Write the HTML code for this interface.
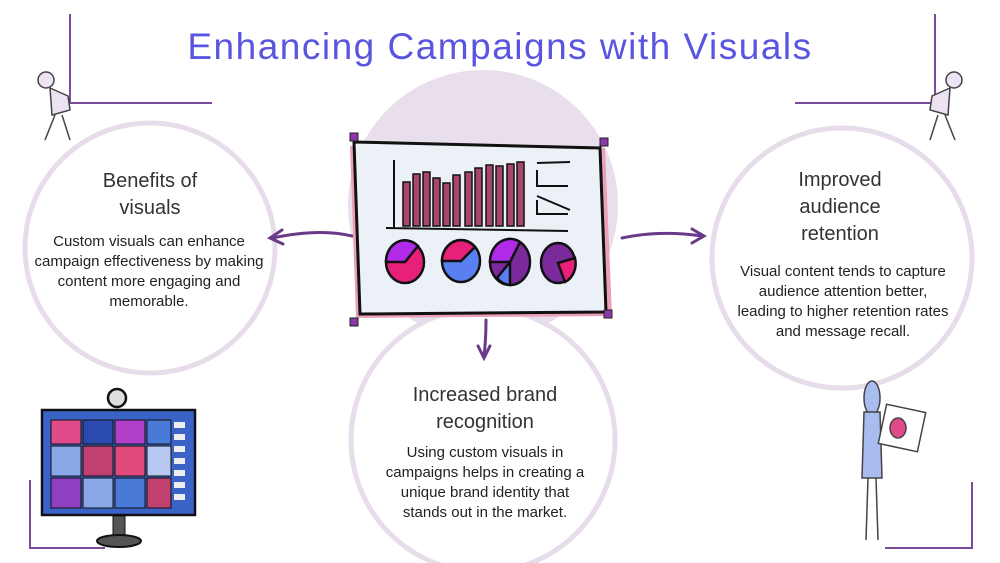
<!DOCTYPE html>
<html><head><style>
body{margin:0;width:1000px;height:563px;background:#fff;overflow:hidden;position:relative;font-family:"Liberation Sans",sans-serif}
.t{position:absolute;text-align:center;color:#222}
.h{font-size:20px;line-height:27px;color:#333}
.p{font-size:15px;line-height:20px;color:#222}
</style></head><body>
<svg width="1000" height="563" style="position:absolute;left:0;top:0">
<circle cx="483" cy="205" r="135" fill="#e9dfec"/>
<circle cx="150" cy="248" r="125" fill="#fff" stroke="#e6dcea" stroke-width="5"/>
<circle cx="842" cy="258" r="130" fill="#fff" stroke="#e6dcea" stroke-width="5"/>
<circle cx="483" cy="440" r="132" fill="#fff" stroke="#e6dcea" stroke-width="5"/>
<path d="M70 14 V103 H212" stroke="#7b4a9a" stroke-width="2" fill="none"/>
<path d="M935 14 V103 H795" stroke="#7b4a9a" stroke-width="2" fill="none"/>
<path d="M30 480 V548 H105" stroke="#7b4a9a" stroke-width="2" fill="none"/>
<path d="M972 482 V548 H885" stroke="#7b4a9a" stroke-width="2" fill="none"/>
<g stroke="#444" stroke-width="1.5" fill="#ede3f3">
<circle cx="46" cy="80" r="8"/><path d="M50 88 L68 96 L70 110 L52 115 Z"/><path d="M55 115 L45 140 M62 115 L70 140"/>
<circle cx="954" cy="80" r="8"/><path d="M950 88 L932 96 L930 110 L948 115 Z"/><path d="M945 115 L955 140 M938 115 L930 140"/>
<ellipse cx="872" cy="398" rx="8" ry="17" fill="#a9bcf0"/><path d="M864 412 L880 412 L882 478 L862 478 Z" fill="#a9bcf0"/><path d="M868 478 L866 540 M876 478 L878 540"/>
<rect x="882" y="408" width="40" height="40" fill="#fff" transform="rotate(12 902 428)"/>
<ellipse cx="898" cy="428" rx="8" ry="10" fill="#e04a8a"/>
</g>
<g stroke="#6a3a8a" stroke-width="3" fill="none" stroke-linecap="round">
<path d="M352 236 Q320 228 272 238"/><path d="M282 230 L270 238 L283 244"/>
<path d="M622 238 Q660 230 702 236"/><path d="M692 229 L704 236 L692 243"/>
<path d="M486 320 Q486 340 484 356"/><path d="M478 346 L484 358 L490 346"/>
</g>
<path d="M350 146 L605 148 L612 316 L356 318 Z" fill="#e9a0b8"/>
<path d="M354 142 L600 148 L606 312 L360 314 Z" fill="#ecf1f8" stroke="#111" stroke-width="3"/>
<g fill="#a8466e" stroke="#111" stroke-width="1.5">
<rect x="403" y="182" width="7" height="44"/><rect x="413" y="174" width="7" height="52"/><rect x="423" y="172" width="7" height="54"/><rect x="433" y="178" width="7" height="48"/><rect x="443" y="183" width="7" height="43"/><rect x="453" y="175" width="7" height="51"/><rect x="465" y="172" width="7" height="54"/><rect x="475" y="168" width="7" height="58"/><rect x="486" y="165" width="7" height="61"/><rect x="496" y="166" width="7" height="60"/><rect x="507" y="164" width="7" height="62"/><rect x="517" y="162" width="7" height="64"/>
</g>
<path d="M394 160 V228 M386 228 L568 231 M537 170 V186 H568 M537 163 L570 162 M537 200 V214 H568 M537 196 L570 210" stroke="#111" stroke-width="2" fill="none"/>
<g stroke="#111" stroke-width="2.5">
<ellipse cx="405" cy="262" rx="19" ry="21" fill="#e8207a"/><path d="M386 262 A19 21 0 0 1 418 246 L405 262 Z" fill="#b02ae8"/>
<ellipse cx="461" cy="261" rx="19" ry="21" fill="#5a7ff0"/><path d="M442 261 A19 21 0 0 1 475 247 L461 261 Z" fill="#e8207a"/>
<ellipse cx="510" cy="262" rx="20" ry="23" fill="#7a2a9a"/><path d="M490 262 A20 23 0 0 1 520 242 L510 262 Z" fill="#b02ae8"/><path d="M510 262 L497 278 A20 23 0 0 0 510 285 Z" fill="#5a7ff0"/>
<ellipse cx="558" cy="263" rx="17" ry="20" fill="#7a2a9a"/><path d="M558 263 L575 258 A17 20 0 0 1 565 282 Z" fill="#e8207a"/>
</g>
<g fill="#8a3aa8" stroke="#222"><rect x="350" y="133" width="8" height="8"/><rect x="600" y="138" width="8" height="8"/><rect x="350" y="318" width="8" height="8"/><rect x="604" y="310" width="8" height="8"/></g>
<rect x="42" y="410" width="153" height="105" fill="#3a63c8" stroke="#111" stroke-width="2.5"/>
<circle cx="117" cy="398" r="9" fill="#ddd" stroke="#111" stroke-width="2.5"/>
<g stroke="#111" stroke-width="1">
<rect x="51" y="420" width="30" height="24" fill="#e04a8a"/><rect x="83" y="420" width="30" height="24" fill="#2a4ab0"/><rect x="115" y="420" width="30" height="24" fill="#b040c8"/><rect x="147" y="420" width="24" height="24" fill="#4a7ad8"/>
<rect x="51" y="446" width="30" height="30" fill="#8aa8e8"/><rect x="83" y="446" width="30" height="30" fill="#c04070"/><rect x="115" y="446" width="30" height="30" fill="#e04a7a"/><rect x="147" y="446" width="24" height="30" fill="#b8c8f0"/>
<rect x="51" y="478" width="30" height="30" fill="#9040c0"/><rect x="83" y="478" width="30" height="30" fill="#8aa8e8"/><rect x="115" y="478" width="30" height="30" fill="#4a7ad8"/><rect x="147" y="478" width="24" height="30" fill="#c04070"/>
</g>
<g fill="#eee"><rect x="174" y="422" width="11" height="6"/><rect x="174" y="434" width="11" height="6"/><rect x="174" y="446" width="11" height="6"/><rect x="174" y="458" width="11" height="6"/><rect x="174" y="470" width="11" height="6"/><rect x="174" y="482" width="11" height="6"/><rect x="174" y="494" width="11" height="6"/></g>
<rect x="113" y="516" width="12" height="22" fill="#555" stroke="#111"/>
<ellipse cx="119" cy="541" rx="22" ry="6" fill="#555" stroke="#111" stroke-width="2"/>
</svg>
<div class="t" style="left:0;width:1000px;top:26px;font-size:37px;color:#5a55e0;letter-spacing:1.5px">Enhancing Campaigns with Visuals</div>
<div class="t h" style="left:60px;width:180px;top:168px">Benefits of<br>visuals</div>
<div class="t p" style="left:28px;width:242px;top:232px">Custom visuals can enhance campaign effectiveness by making content more engaging and memorable.</div>
<div class="t h" style="left:740px;width:200px;top:167px">Improved<br>audience<br>retention</div>
<div class="t p" style="left:712px;width:262px;top:262px">Visual content tends to capture<br>audience attention better,<br>leading to higher retention rates<br>and message recall.</div>
<div class="t h" style="left:370px;width:230px;top:382px">Increased brand<br>recognition</div>
<div class="t p" style="left:383px;width:204px;top:443px">Using custom visuals in campaigns helps in creating a unique brand identity that stands out in the market.</div>
</body></html>
